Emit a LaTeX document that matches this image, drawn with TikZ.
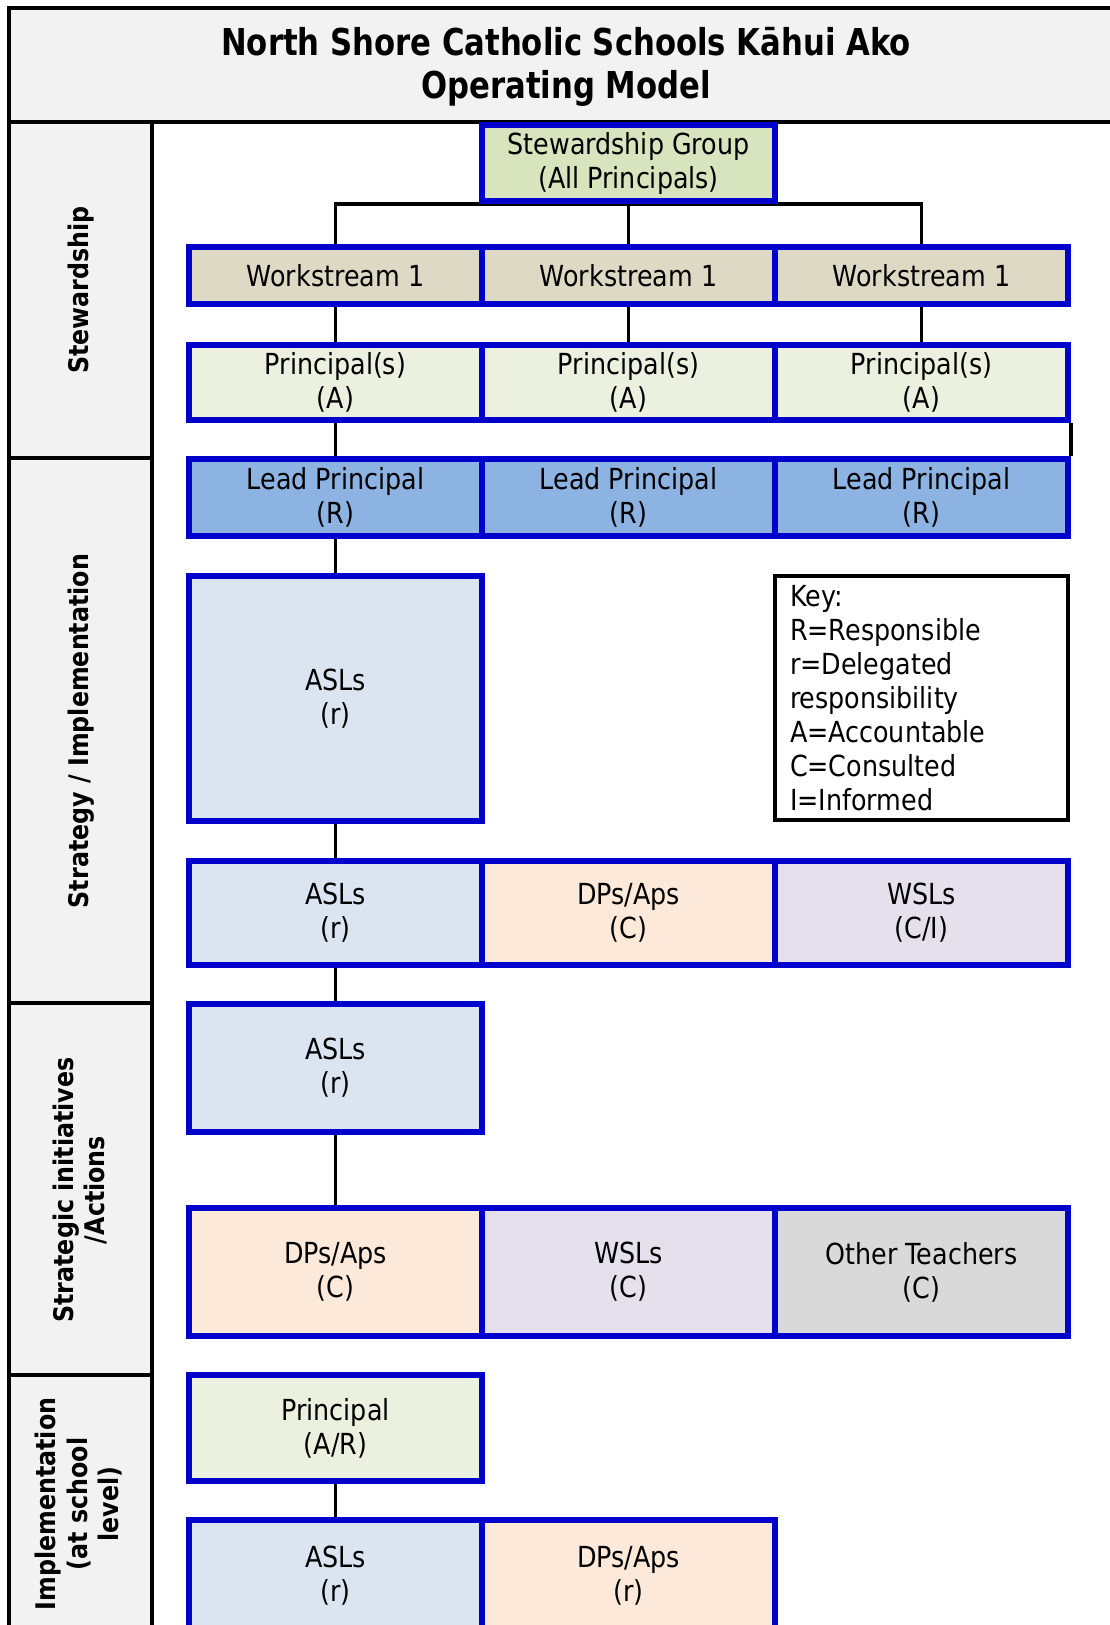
\documentclass[tikz,border=0pt]{standalone}
\usepackage{fontspec}
\setmainfont{DejaVu Sans}[FakeStretch=0.875]
\newfontfamily\lblfont{DejaVu Sans}[FakeStretch=0.88]
\newfontfamily\ttlfont{DejaVu Sans}[FakeStretch=0.83]
\usetikzlibrary{backgrounds}
\definecolor{panel}{HTML}{F2F2F2}
\definecolor{bord}{HTML}{0000CC}
\definecolor{sgfill}{HTML}{D7E4BD}
\definecolor{wsfill}{HTML}{DDD9C4}
\definecolor{prfill}{HTML}{EBF1DE}
\definecolor{lpfill}{HTML}{8DB3E2}
\definecolor{aslfill}{HTML}{DBE5F1}
\definecolor{dpfill}{HTML}{FDE9D9}
\definecolor{wslfill}{HTML}{E5E0EC}
\definecolor{otfill}{HTML}{D9D9D9}
\begin{document}
\begin{tikzpicture}[x=1pt,y=-1pt,
  cell/.style={rectangle, draw=bord, line width=5.5pt, inner sep=0pt, align=center,
    font=\fontsize{29}{34}\selectfont, minimum width=293pt},
  conn/.style={draw=black, line width=3.5pt},
  lbl/.style={rotate=90, align=center, inner sep=0pt,
    font=\lblfont\bfseries\fontsize{27}{31.5}\selectfont},
  frame/.style={draw=black, line width=3.5pt}]
\useasboundingbox (0,0) rectangle (1109,1625);

% title
\node[align=center, inner sep=0pt, font=\ttlfont\bfseries\fontsize{37}{42.5}\selectfont] (title) at (566,67)
  {North Shore Catholic Schools Kāhui Ako\\Operating Model};

% section labels
\node[lbl] (l1) at (81,290) {Stewardship};
\node[lbl] (l2) at (81,731) {Strategy / Implementation};
\node[lbl] (l3) at (80,1190) {Strategic initiatives\\/Actions};
\node[lbl] (l4) at (79,1504) {Implementation\\(at school\\level)};

% stewardship group
\node[cell, fill=sgfill, minimum height=76pt] (sg) at (628.5,163) {Stewardship Group\\(All Principals)};

% workstreams
\node[cell, fill=wsfill, minimum height=57pt] (ws1) at (335.5,275.5) {Workstream 1};
\node[cell, fill=wsfill, minimum height=57pt] (ws2) at (628.5,275.5) {Workstream 1};
\node[cell, fill=wsfill, minimum height=57pt] (ws3) at (921.5,275.5) {Workstream 1};

% principals
\node[cell, fill=prfill, minimum height=75pt] (pr1) at (335.5,382.5) {Principal(s)\\(A)};
\node[cell, fill=prfill, minimum height=75pt] (pr2) at (628.5,382.5) {Principal(s)\\(A)};
\node[cell, fill=prfill, minimum height=75pt] (pr3) at (921.5,382.5) {Principal(s)\\(A)};

% lead principals
\node[cell, fill=lpfill, minimum height=77pt] (lp1) at (335.5,497.5) {Lead Principal\\(R)};
\node[cell, fill=lpfill, minimum height=77pt] (lp2) at (628.5,497.5) {Lead Principal\\(R)};
\node[cell, fill=lpfill, minimum height=77pt] (lp3) at (921.5,497.5) {Lead Principal\\(R)};

% ASLs big
\node[cell, fill=aslfill, minimum height=245pt] (aslA) at (335.5,698.5) {ASLs\\(r)};

% key
\node[rectangle, draw=black, line width=3.5pt, inner sep=0pt, minimum width=293pt, minimum height=244pt,
  text width=263pt, align=left, font=\fontsize{29}{34}\selectfont] (key) at (921.5,698)
  {Key:\\R=Responsible\\r=Delegated\\responsibility\\A=Accountable\\C=Consulted\\I=Informed};

% row 3
\node[cell, fill=aslfill, minimum height=104pt] (r3a) at (335.5,913) {ASLs\\(r)};
\node[cell, fill=dpfill, minimum height=104pt] (r3b) at (628.5,913) {DPs/Aps\\(C)};
\node[cell, fill=wslfill, minimum height=104pt] (r3c) at (921.5,913) {WSLs\\(C/I)};

% ASLs box
\node[cell, fill=aslfill, minimum height=128pt] (aslB) at (335.5,1068) {ASLs\\(r)};

% row 4
\node[cell, fill=dpfill, minimum height=128pt] (r4a) at (335.5,1272) {DPs/Aps\\(C)};
\node[cell, fill=wslfill, minimum height=128pt] (r4b) at (628.5,1272) {WSLs\\(C)};
\node[cell, fill=otfill, minimum height=128pt] (r4c) at (921.5,1272) {Other Teachers\\(C)};

% principal A/R
\node[cell, fill=prfill, minimum height=106pt] (pAR) at (335.5,1428) {Principal\\(A/R)};

% row 5
\node[cell, fill=aslfill, minimum height=112pt] (r5a) at (335.5,1576) {ASLs\\(r)};
\node[cell, fill=dpfill, minimum height=112pt] (r5b) at (628.5,1576) {DPs/Aps\\(r)};

\begin{scope}[on background layer]
  \fill[panel] (9,8) rectangle (1130,122);
  \fill[panel] (9,122) rectangle (152,1640);
  \draw[frame] (1130,8) -- (9,8) -- (9,1640);
  \draw[frame] (9,122) -- (1130,122);
  \draw[frame] (152,122) -- (152,1640);
  \draw[frame] (9,458) -- (152,458);
  \draw[frame] (9,1003) -- (152,1003);
  \draw[frame] (9,1375) -- (152,1375);
  % connectors
  \draw[conn] (ws1.north) |- (sg.south);
  \draw[conn] (ws3.north) |- (sg.south);
  \draw[conn] (ws2.north) -- (sg.south);
  \draw[conn] (ws1.south) -- (pr1.north);
  \draw[conn] (ws2.south) -- (pr2.north);
  \draw[conn] (ws3.south) -- (pr3.north);
  \draw[conn] (pr1.south) -- (lp1.north);
  \draw[conn] (pr3.south east) -- (lp3.north east);
  \draw[conn] (lp1.south) -- (aslA.north);
  \draw[conn] (aslA.south) -- (r3a.north);
  \draw[conn] (r3a.south) -- (aslB.north);
  \draw[conn] (aslB.south) -- (r4a.north);
  \draw[conn] (pAR.south) -- (r5a.north);
\end{scope}
\end{tikzpicture}
\end{document}
